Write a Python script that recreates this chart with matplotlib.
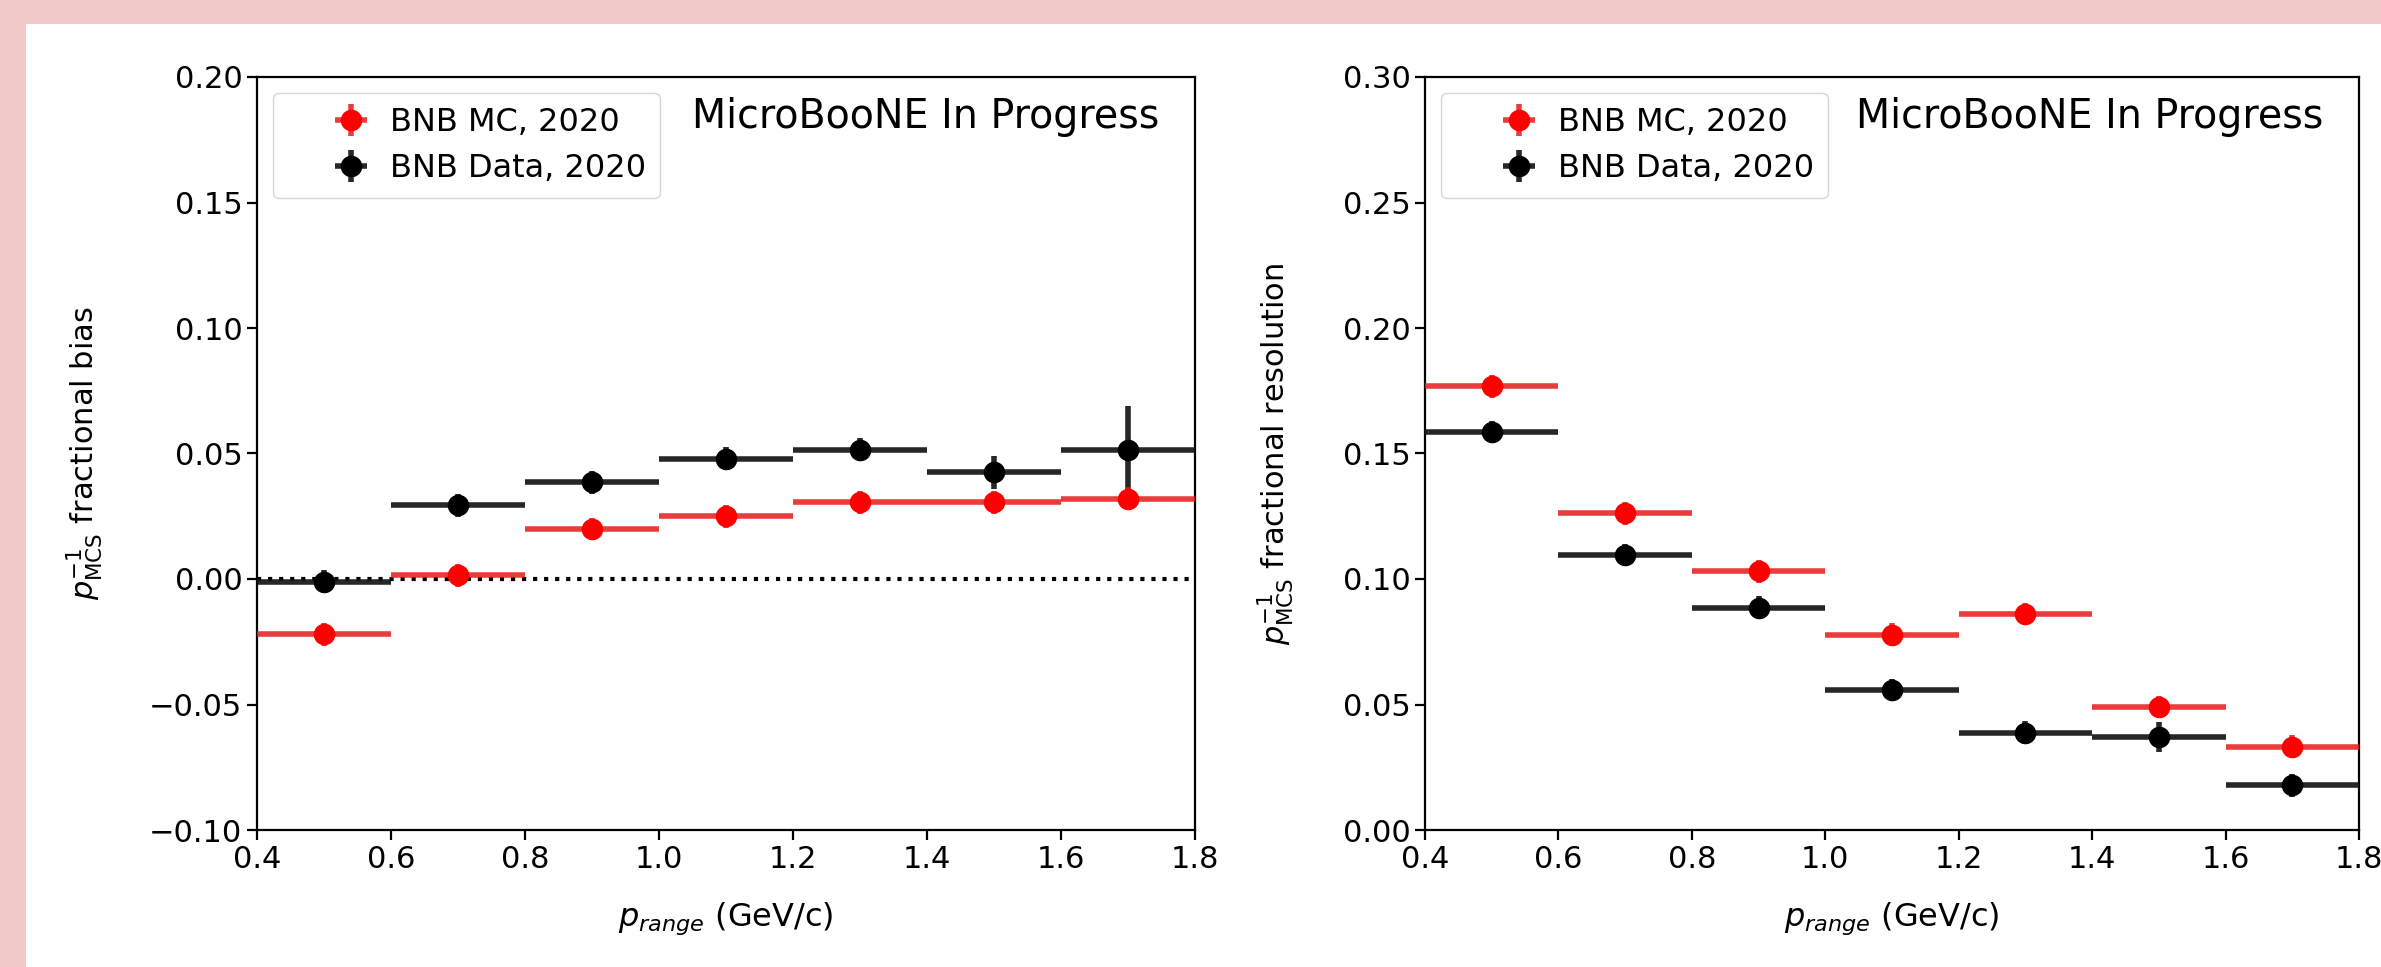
import matplotlib
matplotlib.use("Agg")
import matplotlib.pyplot as plt
import matplotlib.patches as patches
import numpy as np

# bin centres of p_range (GeV/c), bins are 0.2 wide
p_centers = [0.5, 0.7, 0.9, 1.1, 1.3, 1.5, 1.7]
bin_half = [0.1] * 7

# fractional bias
bias_mc = [-0.022, 0.0015, 0.020, 0.025, 0.0305, 0.0305, 0.032]
bias_mc_err = [0.0045, 0.0045, 0.0045, 0.0045, 0.0045, 0.0045, 0.0045]
bias_data = [-0.001, 0.0293, 0.0385, 0.048, 0.0515, 0.0425, 0.0515]
bias_data_err = [0.0045, 0.0045, 0.0045, 0.0045, 0.0045, 0.0065, 0.0175]

# fractional resolution
res_mc = [0.1768, 0.1262, 0.1030, 0.0778, 0.0860, 0.0490, 0.0332]
res_mc_err = [0.0045, 0.0045, 0.0045, 0.0045, 0.0045, 0.0045, 0.0045]
res_data = [0.1585, 0.1095, 0.0886, 0.0558, 0.0388, 0.0372, 0.0178]
res_data_err = [0.0045, 0.0045, 0.0045, 0.0045, 0.0045, 0.006, 0.0045]

labels = ["BNB MC, 2020", "BNB Data, 2020"]
xticks = [0.4, 0.6, 0.8, 1.0, 1.2, 1.4, 1.6, 1.8]

plt.rcParams['font.family'] = ['DejaVu Sans']
plt.rcParams['mathtext.fontset'] = 'dejavusans'

W, H = 2381, 967
fig = plt.figure(figsize=(W / 100, H / 100), dpi=100, facecolor='#f3caca')
bg = patches.Rectangle((26 / W, 0), 1, (H - 24) / H, transform=fig.transFigure,
                       facecolor='white', edgecolor='none', zorder=-10)
fig.patches.append(bg)

ax1 = fig.add_axes([257 / W, (H - 830) / H, 938 / W, 753 / H])
ax2 = fig.add_axes([1425 / W, (H - 830) / H, 934 / W, 753 / H])


def draw_panel(ax, mc, mc_err, data, data_err):
    hd = ax.errorbar(p_centers, data, xerr=bin_half, yerr=data_err, fmt='o', color='black',
                     ecolor=(0.08, 0.08, 0.08, 0.92), ms=14.5, elinewidth=4, capsize=0,
                     label=labels[1], zorder=3)
    hm = ax.errorbar(p_centers, mc, xerr=bin_half, yerr=mc_err, fmt='o', color='red',
                     ecolor=(0.9, 0.1, 0.1, 0.85), ms=14.5, elinewidth=4, capsize=0,
                     label=labels[0], zorder=4)
    ax.legend([hm, hd], labels, loc='upper left', fontsize=23, handlelength=4.0,
              handletextpad=-0.8, borderpad=0.45, labelspacing=0.45)
    ax.text(0.962, 0.947, "MicroBooNE In Progress", transform=ax.transAxes,
            ha='right', va='center', fontsize=28.5)
    ax.set_xlim(0.4, 1.8)
    ax.set_xticks(xticks)
    ax.tick_params(labelsize=22, length=7, width=1.6)
    for s in ax.spines.values():
        s.set_linewidth(1.6)
    ax.set_xlabel(r"$p_{range}$ (GeV/c)", fontsize=23)
    ax.xaxis.set_label_coords(0.5, -0.093)


draw_panel(ax1, bias_mc, bias_mc_err, bias_data, bias_data_err)
ax1.axhline(0, color='black', ls=':', lw=3, zorder=2)
ax1.set_ylim(-0.10, 0.20)
ax1.set_yticks(np.arange(-0.10, 0.201, 0.05))
ax1.set_ylabel(r"$p^{-1}_{\mathrm{MCS}}$ fractional bias", fontsize=22)
ax1.yaxis.set_label_coords(-0.162, 0.5)

draw_panel(ax2, res_mc, res_mc_err, res_data, res_data_err)
ax2.set_ylim(0.0, 0.30)
ax2.set_yticks(np.arange(0.0, 0.301, 0.05))
ax2.set_ylabel(r"$p^{-1}_{\mathrm{MCS}}$ fractional resolution", fontsize=22)
ax2.yaxis.set_label_coords(-0.138, 0.5)

fig.savefig("out.png", dpi=100, facecolor=fig.get_facecolor())
